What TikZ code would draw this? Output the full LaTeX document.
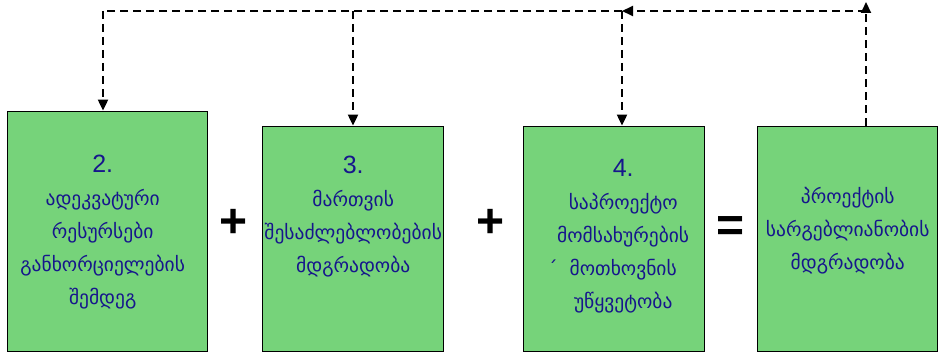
\documentclass[tikz,border=0pt]{standalone}
\usepackage{fontspec}
\usepackage{tikz}
\usetikzlibrary{arrows.meta, positioning}
\setmainfont{Liberation Sans}
\newfontfamily\geofont{DejaVu Sans}
\definecolor{boxgreen}{HTML}{76D37A}
\definecolor{navytext}{HTML}{16168C}
\newcommand{\boxnum}[1]{{\normalfont\fontsize{25}{30}\selectfont #1}}

\begin{document}
\begin{tikzpicture}[x=1pt, y=-1pt,
    box/.style={draw=black, line width=1.4pt, fill=boxgreen, anchor=south west, inner sep=0pt},
    txt/.style={text=navytext, align=center, inner sep=0pt, font=\geofont\fontsize{19.5}{33}\selectfont},
    sign/.style={font=\bfseries\fontsize{48}{48}\selectfont},
    flow/.style={dashed, dash pattern=on 8pt off 5pt, line width=2pt, -{Triangle[length=11pt, width=10pt]}},
    link/.style={dashed, dash pattern=on 8pt off 5pt, line width=2pt}
]
    \useasboundingbox (0,0) rectangle (939,353);
    \node[box, minimum width=200pt, minimum height=240pt] (b2) at (7,352) {};
    \node[box, minimum width=181pt, minimum height=225pt] (b3) at (262,352) {};
    \node[box, minimum width=181pt, minimum height=225pt] (b4) at (523,352) {};
    \node[box, minimum width=180pt, minimum height=225pt] (res) at (757,352) {};

    \node[txt, below=44pt of b2.north, xshift=-5pt] (t2) {\boxnum{2.}\\ადეკვატური\\რესურსები\\განხორციელების\\შემდეგ};
    \node[txt, below=30pt of b3.north] (t3) {\boxnum{3.}\\მართვის\\შესაძლებლობების\\მდგრადობა};
    \node[txt, below=33pt of b4.north, xshift=9pt] (t4) {\boxnum{4.}\\საპროექტო\\მომსახურების\\\llap{´\hspace{12pt}}მოთხოვნის\\უწყვეტობა};
    \node[txt, below=61pt of res.north] (tr) {პროექტის\\სარგებლიანობის\\მდგრადობა};

    \node[sign] (p1) at (234,223) {+};
    \node[sign] (p2) at (491,223) {+};
    \node[sign] (eq) at (731,229) {=};

    \coordinate (up) at (866,2);
    \coordinate (c4) at (866,11);
    \coordinate (c3) at (622,11);
    \coordinate (c2) at (353,11);
    \coordinate (c1) at (103,11);
    \draw[flow] (res.north -| up) -- (up);
    \draw[flow] (c4) -- (c3);
    \draw[link] (c3) -- (c1);
    \draw[flow] (c1) -- (c1 |- b2.north);
    \draw[flow] (c2) -- (c2 |- b3.north);
    \draw[flow] (c3) -- (c3 |- b4.north);
\end{tikzpicture}
\end{document}
